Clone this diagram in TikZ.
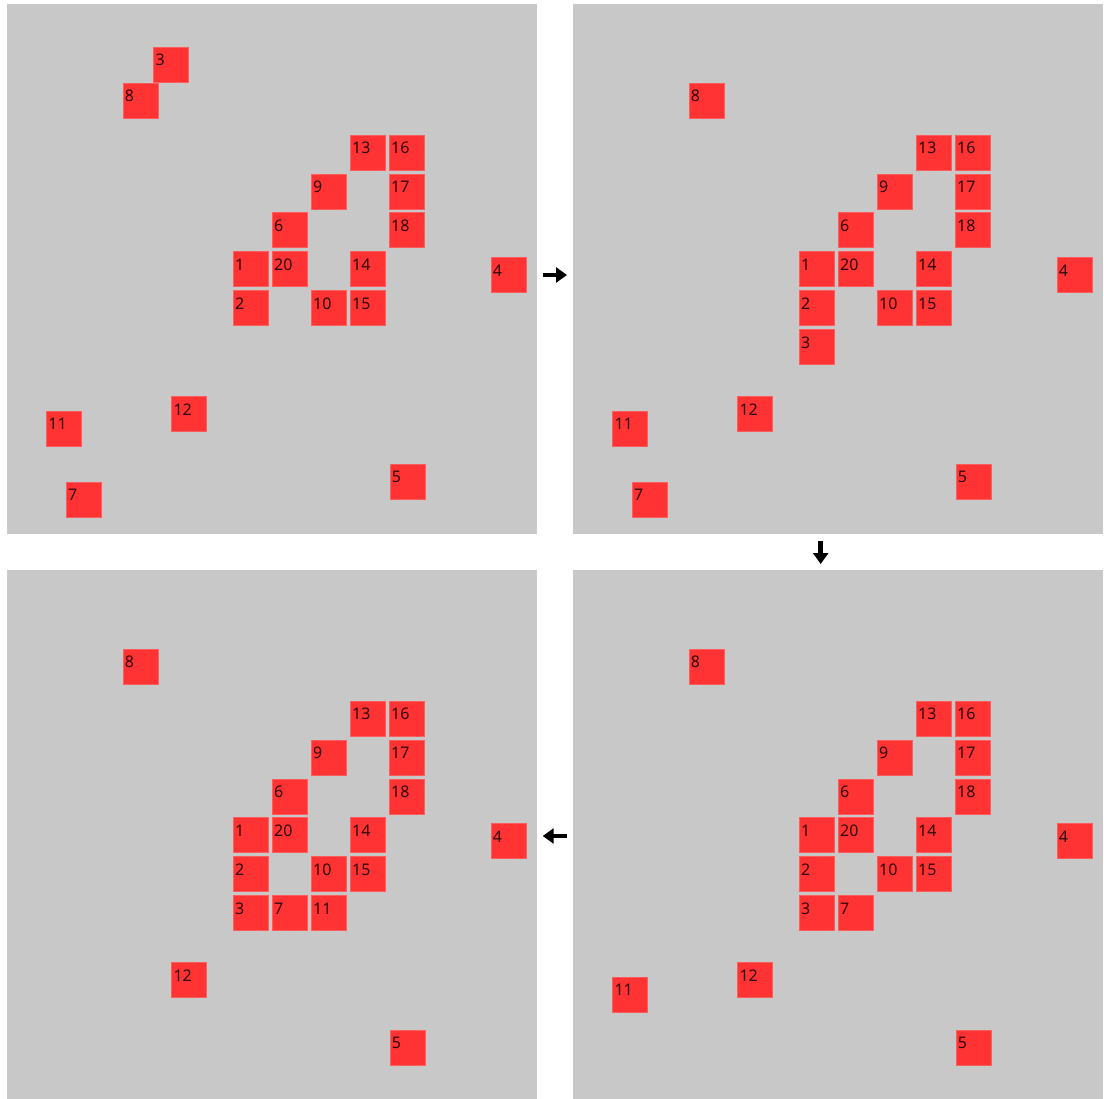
\documentclass[tikz,border=0pt]{standalone}
\usepackage{fontspec}
\setmainfont{Noto Sans}
\usetikzlibrary{arrows.meta}
\definecolor{panelgrey}{RGB}{200,200,200}
\definecolor{cellred}{RGB}{255,51,51}
\definecolor{celltext}{RGB}{45,8,8}
\tikzset{
  panel/.style={fill=panelgrey, draw=none, minimum width=530pt, minimum height=530pt, inner sep=0pt, outer sep=0pt, anchor=north west},
  cellbox/.style={fill=cellred, draw=cellred!80!white, line width=0.6pt, minimum size=35pt, inner sep=0pt, outer sep=0pt, anchor=north west},
  celllabel/.style={font=\fontsize{16}{16}\selectfont, text=celltext, inner sep=0pt, anchor=base west},
  flow/.style={line width=4.5pt, -{Triangle[length=11pt,width=15pt]}}
}
% name, label, x, y (panel-local, px from panel top-left)
\newcommand\mkcell[4]{%
  \node[cellbox] (#1) at (#3,#4) {};
  \node[celllabel] (#1t) at ([xshift=1.6pt,yshift=-18.6pt]#1.north west) {#2};
}
% name, label, column, row on the grid
\newcommand\mkgrid[4]{\mkcell{#1}{#2}{226.3+39*#3}{131+38.9*#4}}
\begin{document}
\begin{tikzpicture}[x=1pt,y=-1pt]
\useasboundingbox (0,0) rectangle (1104,1099);
\fill[white] (0,0) rectangle (1104,1099);

% ---------- Panel A (top-left) ----------
\begin{scope}[shift={(7,4)}]
  \node[panel] (PA) at (0,0) {};
  \mkcell{a3}{3}{146.7}{43.3}
  \mkcell{a8}{8}{116}{79.3}
  \mkgrid{a13}{13}{3}{0}
  \mkgrid{a16}{16}{4}{0}
  \mkgrid{a9}{9}{2}{1}
  \mkgrid{a17}{17}{4}{1}
  \mkgrid{a6}{6}{1}{2}
  \mkgrid{a18}{18}{4}{2}
  \mkgrid{a1}{1}{0}{3}
  \mkgrid{a20}{20}{1}{3}
  \mkgrid{a14}{14}{3}{3}
  \mkgrid{a2}{2}{0}{4}
  \mkgrid{a10}{10}{2}{4}
  \mkgrid{a15}{15}{3}{4}
  \mkcell{a4}{4}{484}{253.7}
  \mkcell{a12}{12}{164.7}{392.7}
  \mkcell{a11}{11}{39.7}{407}
  \mkcell{a7}{7}{59.3}{478.3}
  \mkcell{a5}{5}{383}{460}
\end{scope}

% ---------- Panel B (top-right) ----------
\begin{scope}[shift={(573,4)}]
  \node[panel] (PB) at (0,0) {};
  \mkcell{b8}{8}{116}{79.3}
  \mkgrid{b13}{13}{3}{0}
  \mkgrid{b16}{16}{4}{0}
  \mkgrid{b9}{9}{2}{1}
  \mkgrid{b17}{17}{4}{1}
  \mkgrid{b6}{6}{1}{2}
  \mkgrid{b18}{18}{4}{2}
  \mkgrid{b1}{1}{0}{3}
  \mkgrid{b20}{20}{1}{3}
  \mkgrid{b14}{14}{3}{3}
  \mkgrid{b2}{2}{0}{4}
  \mkgrid{b10}{10}{2}{4}
  \mkgrid{b15}{15}{3}{4}
  \mkgrid{b3}{3}{0}{5}
  \mkcell{b4}{4}{484}{253.7}
  \mkcell{b12}{12}{164.7}{392.7}
  \mkcell{b11}{11}{39.7}{407}
  \mkcell{b7}{7}{59.3}{478.3}
  \mkcell{b5}{5}{383}{460}
\end{scope}

% ---------- Panel C (bottom-left) ----------
\begin{scope}[shift={(7,570)}]
  \node[panel] (PC) at (0,0) {};
  \mkcell{c8}{8}{116}{79.3}
  \mkgrid{c13}{13}{3}{0}
  \mkgrid{c16}{16}{4}{0}
  \mkgrid{c9}{9}{2}{1}
  \mkgrid{c17}{17}{4}{1}
  \mkgrid{c6}{6}{1}{2}
  \mkgrid{c18}{18}{4}{2}
  \mkgrid{c1}{1}{0}{3}
  \mkgrid{c20}{20}{1}{3}
  \mkgrid{c14}{14}{3}{3}
  \mkgrid{c2}{2}{0}{4}
  \mkgrid{c10}{10}{2}{4}
  \mkgrid{c15}{15}{3}{4}
  \mkgrid{c3}{3}{0}{5}
  \mkgrid{c7}{7}{1}{5}
  \mkgrid{c11}{11}{2}{5}
  \mkcell{c4}{4}{484}{253.7}
  \mkcell{c12}{12}{164.7}{392.7}
  \mkcell{c5}{5}{383}{460}
\end{scope}

% ---------- Panel D (bottom-right) ----------
\begin{scope}[shift={(573,570)}]
  \node[panel] (PD) at (0,0) {};
  \mkcell{d8}{8}{116}{79.3}
  \mkgrid{d13}{13}{3}{0}
  \mkgrid{d16}{16}{4}{0}
  \mkgrid{d9}{9}{2}{1}
  \mkgrid{d17}{17}{4}{1}
  \mkgrid{d6}{6}{1}{2}
  \mkgrid{d18}{18}{4}{2}
  \mkgrid{d1}{1}{0}{3}
  \mkgrid{d20}{20}{1}{3}
  \mkgrid{d14}{14}{3}{3}
  \mkgrid{d2}{2}{0}{4}
  \mkgrid{d10}{10}{2}{4}
  \mkgrid{d15}{15}{3}{4}
  \mkgrid{d3}{3}{0}{5}
  \mkgrid{d7}{7}{1}{5}
  \mkcell{d4}{4}{484}{253.7}
  \mkcell{d12}{12}{164.7}{392.7}
  \mkcell{d11}{11}{39.7}{407}
  \mkcell{d5}{5}{383}{460}
\end{scope}

% ---------- Arrows between panels ----------
\coordinate (ABs) at (542.7,275);
\coordinate (ABe) at (567,275);
\coordinate (BDs) at (820.7,540.5);
\coordinate (BDe) at (820.7,564);
\coordinate (DCs) at (567,836);
\coordinate (DCe) at (542.7,836);
\draw[flow] (ABs) -- (ABe);
\draw[flow] (BDs) -- (BDe);
\draw[flow] (DCs) -- (DCe);
\end{tikzpicture}
\end{document}
